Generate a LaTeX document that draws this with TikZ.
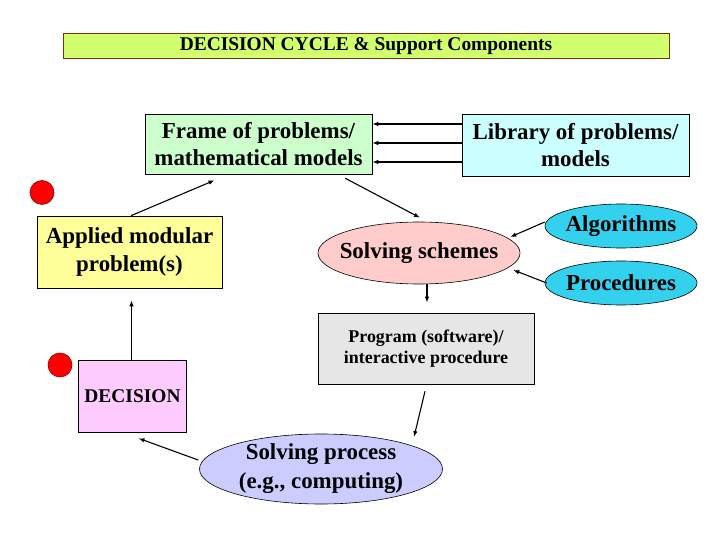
\documentclass[tikz,border=0pt]{standalone}
\usepackage{fontspec}
\setmainfont{Liberation Serif}
\usepackage{tikz}
\usetikzlibrary{arrows.meta,calc,positioning,shapes.geometric}
\definecolor{titlefill}{HTML}{D2FF6E}
\definecolor{titleline}{HTML}{8B2A10}
\definecolor{framefill}{HTML}{CCFFCC}
\definecolor{libfill}{HTML}{CCFFFF}
\definecolor{appfill}{HTML}{FFFF99}
\definecolor{schemefill}{HTML}{FFCCCC}
\definecolor{toolfill}{HTML}{33D1EE}
\definecolor{progfill}{HTML}{E6E6E6}
\definecolor{procfill}{HTML}{CCCCFF}
\definecolor{decfill}{HTML}{FFCCFF}
\definecolor{dotline}{HTML}{8B0000}

\begin{document}
\begin{tikzpicture}[x=1bp,y=-1bp,
      box/.style={draw=black,line width=0.6pt,inner sep=0pt,align=center,font=\bfseries\fontsize{23}{28}\selectfont},
      oval/.style={ellipse,draw=black,line width=0.6pt,inner sep=0pt},
      ovaltext/.style={align=center,inner sep=0pt,font=\bfseries\fontsize{23}{29}\selectfont},
      dot/.style={circle,draw=dotline,fill=red,line width=0.6pt,minimum size=24bp,inner sep=0pt},
      arrow/.style={-{Latex[length=6bp,width=4.5bp]},line width=1.1pt,color=black}
    ]
      \useasboundingbox (0,0) rectangle (720,540);
      \node[box,draw=titleline,fill=titlefill,minimum width=606bp,minimum height=25bp,font=\bfseries\fontsize{19.5}{22}\selectfont] (title) at (366,46) {DECISION CYCLE \& Support Components};
      \node[box,fill=framefill,minimum width=227bp,minimum height=60bp] (frame) at (258.5,144) {Frame of problems/\\mathematical models};
      \node[box,fill=libfill,minimum width=227bp,minimum height=62bp] (library) at (575.5,145) {Library of problems/\\models};
      \node[dot] (dota) at (42,192.5) {};
      \node[box,fill=appfill,minimum width=185bp,minimum height=72bp] (applied) at (129.5,252) {Applied modular\\problem(s)};
      \node[oval,fill=schemefill,minimum width=202bp,minimum height=62bp,label={[ovaltext]center:Solving schemes}] (schemes) at (419,253) {};
      \node[oval,fill=toolfill,minimum width=152bp,minimum height=44bp,label={[ovaltext]center:Algorithms}] (algo) at (621,226) {};
      \node[oval,fill=toolfill,minimum width=152bp,minimum height=44bp,label={[ovaltext]center:Procedures}] (proc) at (621,283) {};
      \node[box,fill=progfill,minimum width=216bp,minimum height=71bp,font=\bfseries\fontsize{18}{21}\selectfont] (program) at (426,348.5) {Program (software)/\\interactive procedure};
      \node[oval,fill=procfill,minimum width=243bp,minimum height=70bp,label={[ovaltext]center:Solving process\\(e.g., computing)}] (process) at (321,469) {};
      \node[box,fill=decfill,minimum width=108bp,minimum height=72bp,font=\bfseries\fontsize{19.5}{22}\selectfont] (decision) at (132.5,396) {DECISION};
      \node[dot] (dotb) at (60,365) {};
      \draw[arrow] (library.west |- 0,124) -- (frame.east |- 0,124);
      \draw[arrow] (library.west |- 0,143) -- (frame.east |- 0,143);
      \draw[arrow] (library.west |- 0,162) -- (frame.east |- 0,162);
      \draw[arrow] ($(applied.north)+(1.5,0)$) -- ($(frame.south)+(-44,6)$);
      \draw[arrow] ($(frame.south east)+(-27,4)$) -- ($(schemes.north)+(1,-4)$);
      \draw[arrow] ($(algo.west)+(0,-4)$) -- ($(schemes.east)+(-10,-16)$);
      \draw[arrow] ($(proc.west)+(2,0)$) -- ($(schemes.east)+(-7,17)$);
      \draw[arrow] ($(schemes.south)+(8,0)$) -- ($(program.north)+(1,-10)$);
      \draw[arrow] ($(program.south)+(-1,7)$) -- ($(process.center)+(93,-32)$);
      \draw[arrow] ($(process.west)+(-1,-9)$) -- ($(decision.south)+(6,6)$);
      \draw[arrow] ($(decision.north)+(-1,0)$) -- ($(applied.south)+(2,12)$);
    \end{tikzpicture}
\end{document}
